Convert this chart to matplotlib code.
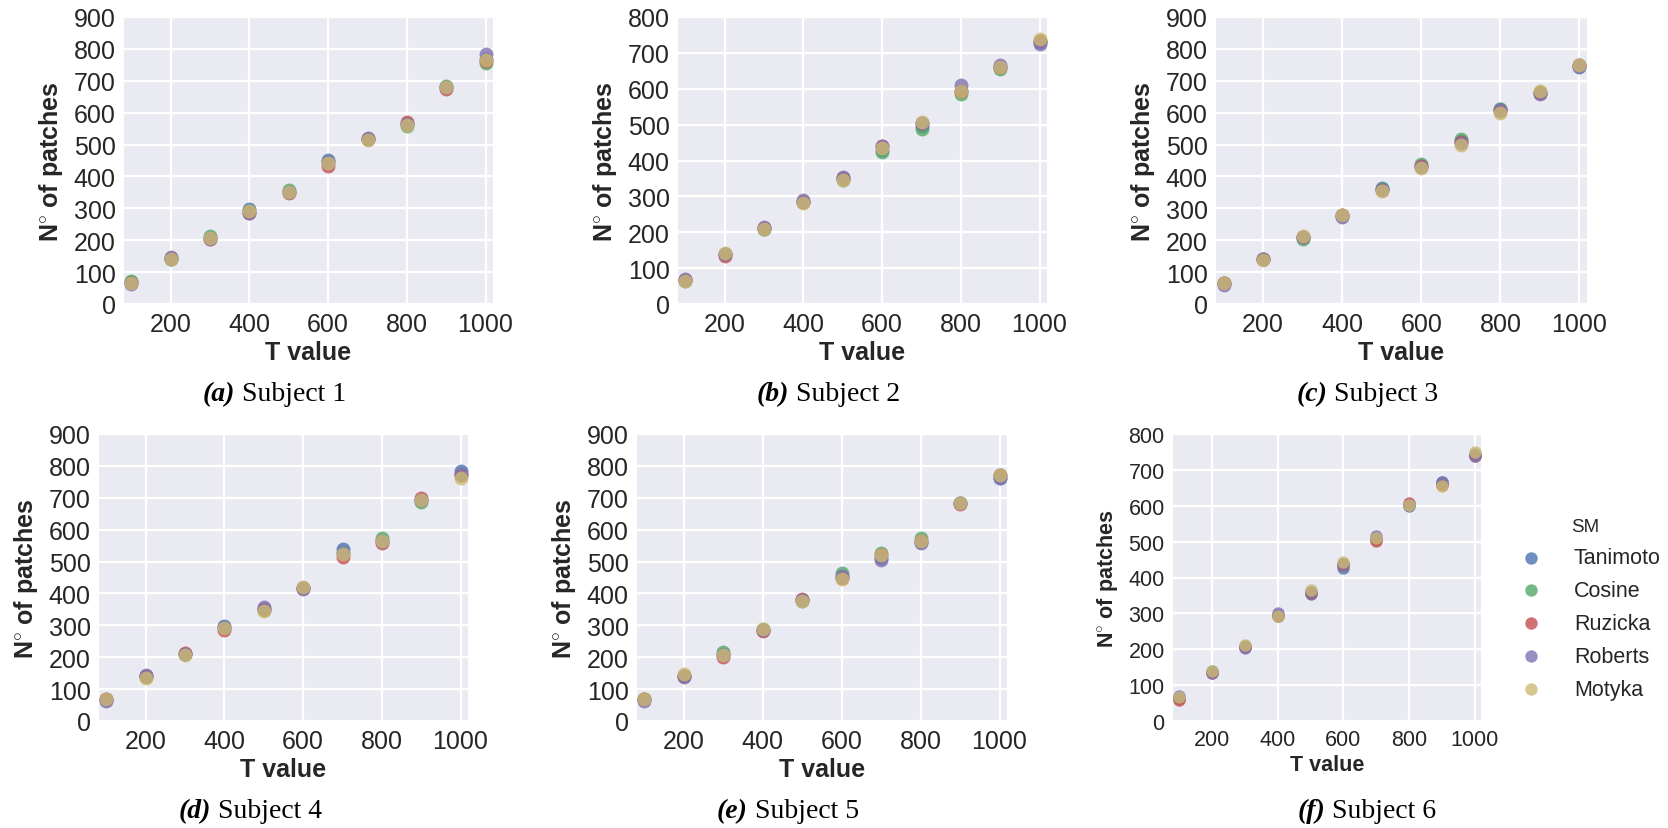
import numpy as np
import matplotlib
matplotlib.use("Agg")
import matplotlib.pyplot as plt
import seaborn as sns

sns.set_style("darkgrid")
plt.rcParams['font.family'] = ['Liberation Sans', 'DejaVu Sans']
plt.rcParams['mathtext.fontset'] = 'custom'
plt.rcParams['mathtext.bf'] = 'Liberation Sans:bold'
plt.rcParams['mathtext.rm'] = 'Liberation Sans'

# data
t_values = [100, 200, 300, 400, 500, 600, 700, 800, 900, 1000]
methods = ["Tanimoto", "Cosine", "Ruzicka", "Roberts", "Motyka"]
colors = ["#4C72B0", "#55A868", "#C44E52", "#8172B2", "#CCB974"]

# subject 1
s1_tanimoto = [68, 142, 208, 297, 352, 452, 516, 563, 682, 768]
s1_cosine   = [72, 142, 214, 292, 357, 445, 516, 557, 683, 756]
s1_ruzicka  = [65, 143, 205, 285, 348, 432, 517, 570, 675, 762]
s1_roberts  = [62, 146, 203, 284, 350, 445, 522, 565, 680, 785]
s1_motyka   = [67, 140, 208, 292, 350, 443, 515, 561, 682, 766]
# subject 2
s2_tanimoto = [66, 140, 210, 285, 350, 430, 495, 595, 660, 730]
s2_cosine   = [64, 140, 210, 283, 347, 425, 489, 586, 654, 733]
s2_ruzicka  = [67, 135, 212, 284, 350, 440, 505, 593, 660, 733]
s2_roberts  = [70, 140, 214, 289, 353, 440, 505, 610, 666, 726]
s2_motyka   = [65, 141, 208, 282, 347, 434, 508, 593, 660, 739]
# subject 3
s3_tanimoto = [66, 142, 210, 276, 363, 432, 512, 611, 662, 742]
s3_cosine   = [67, 140, 204, 279, 360, 438, 516, 613, 665, 748]
s3_ruzicka  = [65, 140, 210, 278, 358, 432, 508, 605, 663, 748]
s3_roberts  = [61, 142, 210, 274, 358, 430, 506, 608, 659, 745]
s3_motyka   = [67, 138, 212, 280, 355, 428, 499, 600, 668, 750]
# subject 4
s4_tanimoto = [67, 140, 209, 297, 350, 418, 540, 566, 692, 785]
s4_cosine   = [69, 138, 209, 292, 348, 418, 527, 574, 686, 770]
s4_ruzicka  = [68, 140, 213, 284, 350, 418, 514, 557, 698, 770]
s4_roberts  = [64, 143, 209, 294, 357, 415, 527, 566, 692, 775]
s4_motyka   = [70, 136, 208, 292, 345, 420, 525, 566, 693, 761]
# subject 5
s5_tanimoto = [68, 140, 210, 285, 378, 452, 510, 560, 683, 763]
s5_cosine   = [70, 142, 216, 287, 376, 464, 527, 573, 683, 770]
s5_ruzicka  = [70, 140, 201, 281, 383, 450, 520, 565, 680, 772]
s5_roberts  = [64, 137, 208, 284, 380, 454, 506, 557, 683, 762]
s5_motyka   = [70, 147, 208, 290, 375, 446, 519, 564, 683, 772]
# subject 6
s6_tanimoto = [65, 137, 207, 296, 354, 427, 506, 598, 666, 742]
s6_cosine   = [65, 138, 208, 294, 360, 438, 506, 603, 660, 745]
s6_ruzicka  = [59, 134, 207, 294, 356, 435, 502, 607, 658, 740]
s6_roberts  = [70, 134, 203, 300, 360, 437, 515, 602, 665, 740]
s6_motyka   = [67, 140, 211, 292, 366, 442, 509, 602, 654, 749]

subjects = [
    [s1_tanimoto, s1_cosine, s1_ruzicka, s1_roberts, s1_motyka],
    [s2_tanimoto, s2_cosine, s2_ruzicka, s2_roberts, s2_motyka],
    [s3_tanimoto, s3_cosine, s3_ruzicka, s3_roberts, s3_motyka],
    [s4_tanimoto, s4_cosine, s4_ruzicka, s4_roberts, s4_motyka],
    [s5_tanimoto, s5_cosine, s5_ruzicka, s5_roberts, s5_motyka],
    [s6_tanimoto, s6_cosine, s6_ruzicka, s6_roberts, s6_motyka],
]
y_tops = [900, 800, 900, 900, 900, 800]
letters = ["a", "b", "c", "d", "e", "f"]

W, H = 1668, 829
fig = plt.figure(figsize=(W / 100, H / 100), dpi=100)

# axes boxes in pixels: left, top, right, bottom
boxes = [(124, 18, 493, 305), (678, 18, 1047, 305), (1216, 18, 1587, 305),
         (99, 435, 468, 722), (637, 435, 1007, 722), (1173, 435, 1481, 722)]
caption_split = [238, 792, 1330, 214, 751, 1328]
caption_base = [401, 401, 401, 818, 818, 818]

for i in range(6):
    l, t, r, b = boxes[i]
    ax = fig.add_axes([l / W, 1 - b / H, (r - l) / W, (b - t) / H])
    small = (i == 5)
    fs = 15.5 if small else 18
    ms = 80 if small else 100
    for j in range(5):
        ax.scatter(t_values, subjects[i][j], s=ms, color=colors[j], alpha=0.8,
                   linewidths=0, label=methods[j], zorder=3)
    ax.set_xlim(81, 1019)
    ax.set_ylim(0, y_tops[i])
    ax.set_xticks([200, 400, 600, 800, 1000])
    ax.set_yticks(np.arange(0, y_tops[i] + 1, 100))
    ax.tick_params(labelsize=fs, colors="#262626", pad=6, length=0)
    ax.grid(color="white", linewidth=1.6)
    ax.set_xlabel("T value", fontsize=fs, fontweight="bold", color="#262626", labelpad=3)
    ax.set_ylabel(r"$\mathbf{N}^{\circ}$ of patches", fontsize=fs, fontweight="bold",
                  color="#262626", labelpad=6)
    for sp in ax.spines.values():
        sp.set_visible(False)

    xs = caption_split[i]
    yb = 1 - caption_base[i] / H
    fig.text((xs - 3) / W, yb, "(" + letters[i] + ")", ha="right", va="baseline",
             fontsize=20, fontstyle="italic", fontweight="bold",
             family="Liberation Serif", color="black")
    fig.text((xs + 4) / W, yb, "Subject " + str(i + 1), ha="left", va="baseline",
             fontsize=20, family="Liberation Serif", color="black")

    if small:
        handles, labels = ax.get_legend_handles_labels()
        leg = fig.legend(handles, labels, title="SM", loc="upper left",
                         bbox_to_anchor=(1490 / W, 1 - 500 / H), frameon=False,
                         fontsize=15.5, title_fontsize=13.5, handletextpad=1.0,
                         labelspacing=0.55, scatterpoints=1)
        for lh in leg.legend_handles:
            lh.set_alpha(0.8)

fig.savefig("out.png", dpi=100)
